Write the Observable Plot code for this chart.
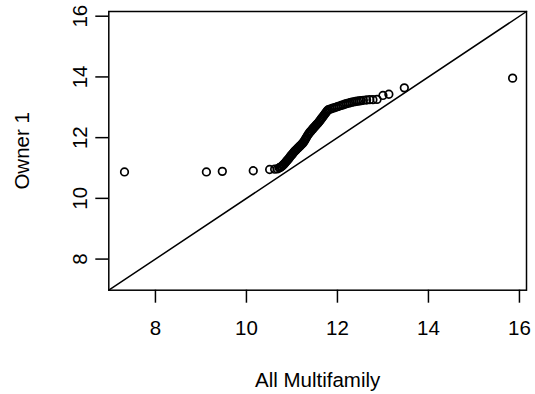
<!DOCTYPE html>
<html>
<head>
<meta charset="utf-8">
<script src="https://cdn.jsdelivr.net/npm/d3@7"></script>
<script src="https://cdn.jsdelivr.net/npm/@observablehq/plot@0.6"></script>
<style>
  html, body { margin: 0; padding: 0; background: #fff; }
  #chart svg { display: block; }
</style>
</head>
<body>
<div id="chart"></div>
<script>
// Quantiles: All Multifamily (x) vs Owner 1 (y), both sorted
const allMultifamily = [
  7.32, 9.12, 9.47, 10.15, 10.51, 10.62, 10.68,
  10.72, 10.74, 10.76, 10.78, 10.80, 10.82, 10.84, 10.86, 10.88, 10.90,
  10.92, 10.94, 10.96, 10.98, 11.00, 11.02, 11.04, 11.06, 11.08, 11.10,
  11.12, 11.14, 11.16, 11.18, 11.20, 11.22, 11.24, 11.26, 11.28, 11.30,
  11.32, 11.34, 11.36, 11.38, 11.40, 11.42, 11.44, 11.46, 11.48, 11.50,
  11.52, 11.54, 11.56, 11.58, 11.60, 11.62, 11.64, 11.66, 11.68, 11.70,
  11.72, 11.74, 11.76, 11.78, 11.80,
  11.84, 11.88, 11.92, 11.96, 12.00, 12.04, 12.08, 12.12, 12.16, 12.20,
  12.24, 12.28, 12.32, 12.36, 12.40, 12.44, 12.48, 12.52, 12.57, 12.64,
  12.71, 12.78, 12.87, 13.00, 13.13, 13.47, 15.85
];
const owner1 = [
  10.87, 10.87, 10.89, 10.91, 10.95, 10.96, 10.97,
  11.00, 11.02, 11.04, 11.06, 11.09, 11.12, 11.15, 11.19, 11.22, 11.26,
  11.29, 11.33, 11.37, 11.41, 11.44, 11.48, 11.52, 11.55, 11.58, 11.61,
  11.64, 11.67, 11.70, 11.73, 11.76, 11.79, 11.82, 11.86, 11.91, 11.96,
  12.01, 12.06, 12.11, 12.15, 12.19, 12.22, 12.26, 12.29, 12.33, 12.36,
  12.39, 12.43, 12.46, 12.49, 12.53, 12.57, 12.61, 12.65, 12.69, 12.73,
  12.77, 12.81, 12.85, 12.89, 12.92,
  12.94, 12.96, 12.98, 13.00, 13.02, 13.04, 13.06, 13.08, 13.10, 13.12,
  13.14, 13.15, 13.17, 13.18, 13.19, 13.20, 13.21, 13.22, 13.23, 13.24,
  13.25, 13.25, 13.26, 13.39, 13.43, 13.64, 13.96
];
const axisDomain = [6.975, 16.155];
const xTicks = [8, 10, 12, 14, 16];
const yTicks = [8, 10, 12, 14, 16];
const xLabel = "All Multifamily";
const yLabel = "Owner 1";

const points = allMultifamily.map((x, i) => ({x, y: owner1[i]}));
const fs = 20.5;
const lw = 1.5;

const chart = Plot.plot({
  width: 535,
  height: 394,
  marginLeft: 108.3,
  marginRight: 9,
  marginTop: 11,
  marginBottom: 104.3,
  style: {fontFamily: "'Liberation Sans', Arial, Helvetica, sans-serif", fontSize: fs + "px", color: "black", background: "white"},
  x: {domain: axisDomain},
  y: {domain: axisDomain},
  marks: [
    Plot.frame({stroke: "black", strokeWidth: lw}),
    Plot.line(axisDomain, {x: d => d, y: d => d, stroke: "black", strokeWidth: lw}),
    Plot.dot(points, {x: "x", y: "y", r: 3.8, stroke: "black", strokeWidth: 1.7, fill: "none"}),
    Plot.axisX({ticks: xTicks, tickSize: 13, tickPadding: 17.7, tickFormat: d => String(d), label: null, strokeWidth: lw, fontSize: fs}),
    Plot.axisY({ticks: yTicks, tickSize: 13, tickFormat: () => "", label: null, strokeWidth: lw}),
    Plot.text(yTicks, {y: d => d, text: d => String(d), frameAnchor: "left", dx: -21.5, rotate: -90, textAnchor: "middle", lineAnchor: "bottom", fontSize: fs, fill: "black"}),
    Plot.text([xLabel], {frameAnchor: "bottom", dy: 96.3, textAnchor: "middle", lineAnchor: "bottom", fontSize: fs, fill: "black"}),
    Plot.text([yLabel], {frameAnchor: "left", dx: -80, rotate: -90, textAnchor: "middle", lineAnchor: "bottom", fontSize: fs, fill: "black"})
  ]
});
document.getElementById("chart").appendChild(chart);
</script>
</body>
</html>
